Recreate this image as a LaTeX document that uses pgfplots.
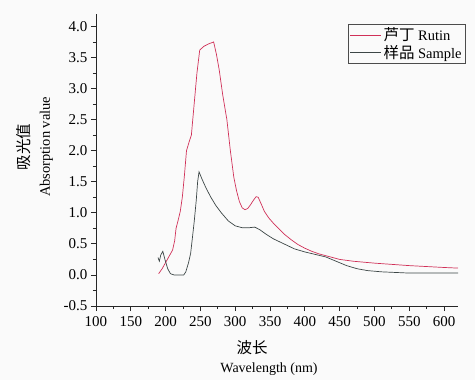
\documentclass[border=0pt]{standalone}
\usepackage{fontspec}
\setmainfont{Liberation Serif}
\newfontfamily\cjk{Noto Sans CJK SC}
\usepackage{pgfplots}
\pgfplotsset{compat=1.18}
\definecolor{rutin}{RGB}{208,48,88}
\definecolor{sample}{RGB}{60,70,70}
\definecolor{bg}{RGB}{250,250,250}
\newcommand{\cj}[1]{{\cjk\fontsize{15.5bp}{19bp}\selectfont #1}}
\begin{document}
\begin{tikzpicture}
\fill[bg] (-96bp,-74bp) rectangle (379bp,306bp);
\begin{axis}[
 scale only axis, width=362bp, height=292bp,
 xmin=100, xmax=620, ymin=-0.5, ymax=4.2,
 axis x line*=bottom, axis y line*=left,
 xtick={100,150,...,600}, ytick={-0.5,0,0.5,1,1.5,2,2.5,3,3.5,4},
 minor x tick num=1, minor y tick num=1,
 tick align=outside, major tick length=5bp, minor tick length=3bp,
 yticklabel style={/pgf/number format/fixed, /pgf/number format/fixed zerofill, /pgf/number format/precision=1},
 xticklabel style={yshift=-2bp},
 /pgf/number format/assume math mode=true,
 ticklabel style={font=\fontsize{15bp}{17bp}\selectfont},
 axis line style={black!85, line width=0.8pt},
 tick style={black!85, line width=0.8pt},
 xlabel={\cj{波长}\hspace*{34bp}\\[1bp]Wavelength (nm)},
 xlabel style={at={(axis description cs:0.478,0)}, anchor=center, yshift=-51.5bp, align=center, font=\fontsize{14bp}{18bp}\selectfont},
 ylabel={\cj{吸光值}\\[2bp]Absorption value},
 ylabel style={at={(axis description cs:0,0.545)}, anchor=center, yshift=61bp, align=center, font=\fontsize{14.5bp}{18bp}\selectfont},
 legend style={at={(axis description cs:0.696,0.966)}, anchor=north west, font=\fontsize{14.5bp}{16bp}\selectfont, draw=black!70, line width=0.8pt, inner sep=1.5bp, row sep=-1bp, fill=bg},
 legend cell align=left,
 legend image code/.code={\draw[#1, line width=0.7pt] (0bp,0bp) -- (31bp,0bp);},
]
\addplot[rutin, line width=0.7pt] coordinates {
(190,0.02) (195,0.1) (200,0.2) (205,0.3) (210,0.40) (213,0.55) (215,0.75) (218,0.88)
(221,1.02) (224,1.25) (227,1.6) (230,2.0) (234,2.15) (237,2.25) (241,2.75) (245,3.25)
(249,3.62) (255,3.68) (262,3.72) (269,3.75) (273,3.55) (277,3.3) (282,2.9) (288,2.5)
(293,2.0) (298,1.57) (302,1.35) (306,1.18) (310,1.08) (314,1.05) (318,1.07) (322,1.13)
(326,1.2) (330,1.26) (333,1.25) (337,1.15) (342,1.02) (348,0.92) (355,0.83) (362,0.75)
(370,0.66) (380,0.57) (390,0.49) (400,0.43) (410,0.38) (420,0.34) (430,0.31) (440,0.28)
(450,0.25) (470,0.22) (500,0.19) (525,0.17) (550,0.15) (575,0.135) (600,0.12) (620,0.11)
};
\addlegendentry{\cj{芦丁} Rutin}
\addplot[sample, line width=0.7pt] coordinates {
(189,0.28) (191,0.22) (193,0.32) (196,0.38) (199,0.25) (203,0.1) (207,0.02) (212,0.0)
(220,0.0) (226,0.0) (229,0.05) (233,0.2) (236,0.35) (238,0.55) (241,0.85) (244,1.2)
(246,1.5) (248,1.66) (252,1.55) (258,1.4) (265,1.25) (272,1.12) (280,1.0) (290,0.87)
(300,0.79) (310,0.76) (320,0.76) (328,0.77) (335,0.73) (345,0.65) (355,0.58) (370,0.5)
(385,0.42) (400,0.37) (415,0.33) (430,0.29) (445,0.22) (460,0.15) (475,0.1) (490,0.07)
(510,0.05) (530,0.04) (550,0.03) (620,0.03)
};
\addlegendentry{\cj{样品} Sample}
\end{axis}
\pgfresetboundingbox
\path[use as bounding box] (-96bp,-74bp) rectangle (379bp,306bp);
\end{tikzpicture}
\end{document}
